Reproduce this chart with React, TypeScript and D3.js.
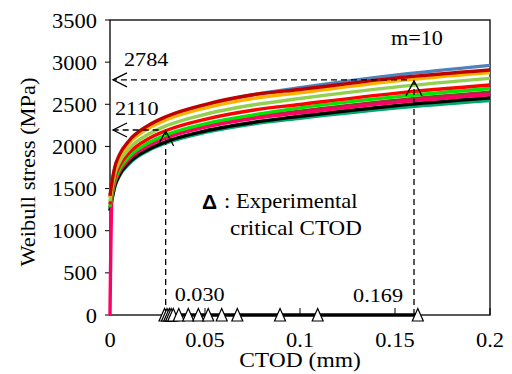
import { useEffect, useRef } from 'react'
import * as d3 from 'd3'

const W = 512
const H = 374

// CTOD sample points (mm), shared by every curve
const ctod = [0, 0.001, 0.0025, 0.005, 0.01, 0.02, 0.03, 0.05, 0.075, 0.1, 0.15, 0.2]

// Weibull stress (MPa)
const blue = [1400, 1555, 1735, 1885, 2050, 2230, 2340, 2485, 2610, 2696, 2845, 2961]
const teal = [1230, 1364, 1519, 1650, 1793, 1949, 2045, 2166, 2266, 2335, 2456, 2545]
const black = [1240, 1375, 1531, 1663, 1808, 1964, 2061, 2183, 2284, 2358, 2483, 2577]
const brown = [1270, 1414, 1575, 1711, 1859, 2020, 2120, 2245, 2349, 2418, 2546, 2644]
const pink = [0, 1404, 1564, 1699, 1846, 2006, 2105, 2229, 2332, 2398, 2523, 2617]
const green = [1285, 1428, 1591, 1728, 1878, 2040, 2141, 2267, 2372, 2458, 2588, 2688]
const red = [1315, 1462, 1629, 1769, 1922, 2089, 2192, 2321, 2429, 2498, 2630, 2728]
const lightGreen = [1350, 1499, 1670, 1814, 1971, 2142, 2248, 2381, 2491, 2569, 2704, 2807]
const orange = [1390, 1547, 1723, 1871, 2034, 2210, 2319, 2456, 2569, 2637, 2775, 2875]
const darkRed = [1415, 1573, 1752, 1903, 2068, 2247, 2358, 2497, 2613, 2676, 2810, 2906]

const curves = [blue, teal, black, brown, pink, green, red, lightGreen, orange, darkRed]
const curveColors = ['#4f81bd', '#00a86b', '#000000', '#953735', '#ff0066', '#00e600', '#ff0000', '#92d050', '#ffb000', '#c00000']

// experimental critical CTOD (mm)
const expCtod = [0.0287, 0.03, 0.0312, 0.0322, 0.0333, 0.0362, 0.0412, 0.0465, 0.0517, 0.0588, 0.067, 0.0895, 0.1093, 0.162]

const xTicks = [0, 0.05, 0.1, 0.15, 0.2]
const yTicks = [0, 500, 1000, 1500, 2000, 2500, 3000, 3500]

// dashed guides: CTOD / stress where they meet, and their labels
const guideCtod = [0.0293, 0.16]
const guideStress = [2195, 2790]
const guideCtodLabels = ['0.030', '0.169']
const guideStressLabels = ['2110', '2784']

const SERIF = '"Liberation Serif", "Times New Roman", serif'

export default function App() {
  const svgRef = useRef<SVGSVGElement>(null)

  useEffect(() => {
    if (!svgRef.current) return
    const svg = d3.select(svgRef.current)
    svg.selectAll('*').remove()

    const margin = { top: 20, right: 22, bottom: 59, left: 110 }
    const innerW = W - margin.left - margin.right
    const innerH = H - margin.top - margin.bottom

    const x = d3.scaleLinear().domain([0, 0.2]).range([margin.left, margin.left + innerW])
    const y = d3.scaleLinear().domain([0, 3500]).range([margin.top + innerH, margin.top])

    const label = (px: number, py: number, txt: string, size: number, anchor: string, sx: number, rot = 0, family = SERIF) =>
      svg.append('text')
        .attr('transform', `translate(${px},${py}) rotate(${rot}) scale(${sx},1)`)
        .attr('text-anchor', anchor)
        .attr('font-family', family)
        .attr('font-size', size)
        .attr('fill', '#000')
        .text(txt)

    // frame
    svg.append('rect')
      .attr('x', margin.left).attr('y', margin.top)
      .attr('width', innerW).attr('height', innerH)
      .attr('fill', 'none').attr('stroke', '#000').attr('stroke-width', 1.3)

    // y ticks (outside) + labels
    yTicks.forEach(t => {
      svg.append('line')
        .attr('x1', x(0) - 5).attr('x2', x(0))
        .attr('y1', y(t)).attr('y2', y(t))
        .attr('stroke', '#000').attr('stroke-width', 1)
      label(x(0) - 13, y(t) + 7.5, String(t), 21, 'end', 1.07)
    })

    // x ticks (inside) + labels
    xTicks.forEach(t => {
      svg.append('line')
        .attr('x1', x(t)).attr('x2', x(t))
        .attr('y1', y(0)).attr('y2', y(0) - 7)
        .attr('stroke', '#000').attr('stroke-width', 1)
      label(x(t), y(0) + 31.5, String(t), 21, 'middle', 1.07)
    })

    // axis titles
    label(x(0.1), H - 7, 'CTOD (mm)', 21, 'middle', 1.12)
    label(35, 172, 'Weibull stress (MPa)', 21, 'middle', 1.07, -90)

    // Weibull stress curves
    const line = d3.line<number>()
      .x((_, i) => x(ctod[i]))
      .y(d => y(d))
      .curve(d3.curveMonotoneX)

    curves.forEach((vals, i) => {
      svg.append('path')
        .datum(vals)
        .attr('d', line)
        .attr('fill', 'none')
        .attr('stroke', curveColors[i])
        .attr('stroke-width', 3.4)
    })

    // dashed guides with open arrowheads
    guideCtod.forEach((c, i) => {
      const gx = x(c)
      const gy = y(guideStress[i])
      const dash = '6,4'
      svg.append('line')
        .attr('x1', gx).attr('x2', gx).attr('y1', y(0)).attr('y2', gy + 1)
        .attr('stroke', '#000').attr('stroke-width', 1.3).attr('stroke-dasharray', dash)
      svg.append('line')
        .attr('x1', gx - 7).attr('x2', x(0) + 3).attr('y1', gy).attr('y2', gy)
        .attr('stroke', '#000').attr('stroke-width', 1.3).attr('stroke-dasharray', dash)
      // up arrowhead
      svg.append('path')
        .attr('d', `M${gx - 8},${gy + 16}L${gx},${gy + 1}L${gx + 8},${gy + 16}`)
        .attr('fill', 'none').attr('stroke', '#000').attr('stroke-width', 1.3)
      // left arrowhead
      svg.append('path')
        .attr('d', `M${x(0) + 17},${gy - 7}L${x(0) + 3},${gy}L${x(0) + 17},${gy + 7}`)
        .attr('fill', 'none').attr('stroke', '#000').attr('stroke-width', 1.3)
    })

    label(x(0) + 14, y(guideStress[1]) - 14, guideStressLabels[1], 19, 'start', 1.17)
    label(x(0) + 5, y(guideStress[0]) - 15, guideStressLabels[0], 19, 'start', 1.17)
    label(x(guideCtod[0]) + 9, y(0) - 14.5, guideCtodLabels[0], 19, 'start', 1.17)
    label(x(guideCtod[1]) - 11, y(0) - 13.5, guideCtodLabels[1], 19, 'end', 1.17)

    // experimental points joined along the axis
    svg.append('path')
      .datum(expCtod)
      .attr('d', d3.line<number>().x(d => x(d)).y(() => y(0)))
      .attr('fill', 'none').attr('stroke', '#000').attr('stroke-width', 3.5)

    expCtod.forEach(c => {
      const cx = x(c)
      const cy = y(0)
      svg.append('path')
        .attr('d', `M${cx},${cy - 6.5}L${cx + 5.5},${cy + 6}L${cx - 5.5},${cy + 6}Z`)
        .attr('fill', '#fff').attr('stroke', '#000').attr('stroke-width', 1.2)
    })

    // legend note
    label(202, 209, '\u0394', 20, 'start', 1.05, 0, '"Liberation Sans", Arial, sans-serif').attr('font-weight', 'bold')
    label(224, 208, ': Experimental', 20, 'start', 1.13)
    label(230, 235, 'critical CTOD', 20, 'start', 1.15)

    label(391, 45, 'm=10', 20, 'start', 1.11)
  }, [])

  return (
    <svg
      ref={svgRef}
      width={W}
      height={H}
      style={{ position: 'absolute', left: 0, top: 0, background: '#fff' }}
    />
  )
}
